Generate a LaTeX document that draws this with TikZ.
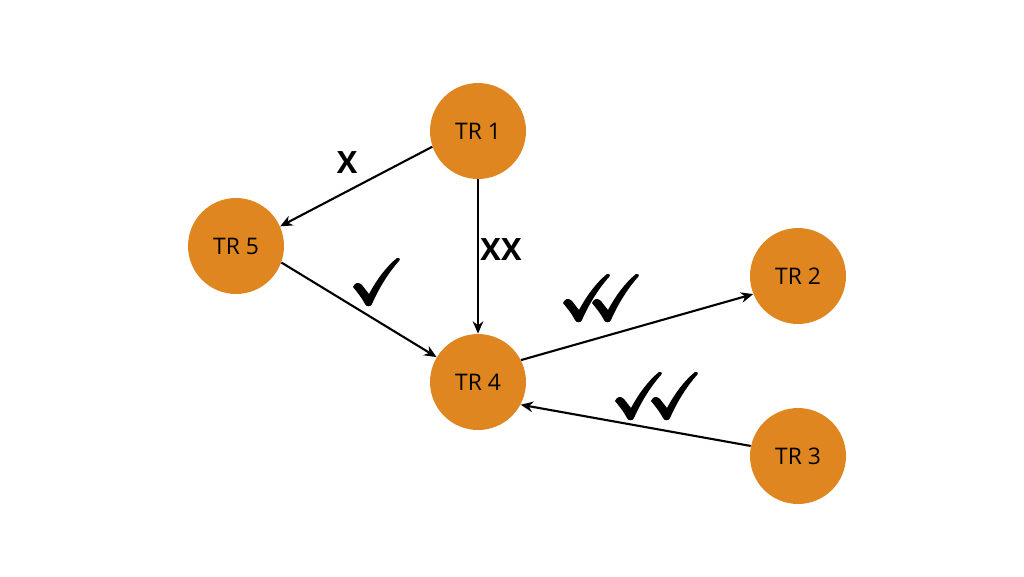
\documentclass[tikz,border=0pt]{standalone}
\usepackage{fontspec}
\setmainfont{Open Sans}
\usetikzlibrary{arrows.meta}
\definecolor{trorange}{RGB}{224,134,32}
\tikzset{
    tr/.style={circle, fill=trorange, minimum size=1.92cm, inner sep=0pt, font=\fontsize{13}{15}\selectfont},
    link/.style={line width=1.2pt, -{Stealth[length=7pt,width=6pt]}},
    cross/.style={font=\fontsize{17.5}{19}\selectfont\bfseries},
    tickmark/.pic={
        \fill (0,29) .. controls (2,24) and (6,24) .. (9,27) -- (16,36)
            .. controls (24,21) and (34,8) .. (44,0) .. controls (46,-1) and (48,1) .. (46,3)
            .. controls (36,14) and (26,30) .. (19,46) .. controls (18,49) and (13,49) .. (12,46)
            .. controls (9,40) and (4,34) .. (0,29) -- cycle;
    }
}
\begin{document}
\begin{tikzpicture}[x=0.02cm, y=-0.02cm]
                \useasboundingbox (0,0) rectangle (1024,576);
                \node[tr] (TR1) at (478,131) {TR 1};
                \node[tr] (TR5) at (236,246) {TR 5};
                \node[tr] (TR4) at (478,382) {TR 4};
                \node[tr] (TR2) at (798,276) {TR 2};
                \node[tr] (TR3) at (798,456) {TR 3};
                \draw[link] (TR1.-161) -- (TR5.24);
                \draw[link] (TR1.south) -- (TR4.north);
                \draw[link] (TR5.-20) -- (TR4.149);
                \draw[link] (TR4.27) -- (TR2.-158);
                \draw[link] (TR3.168) -- (TR4.-28);
                \node[cross] (c15) at (347,163) {X};
                \node[cross] (c14) at (501,250) {XX};
                % ticks
                \pic (t54) at (353,258) {tickmark};
                \pic (t42a) at (563,274) {tickmark};
                \pic (t42b) at (592,274) {tickmark};
                \pic (t34a) at (615,372) {tickmark};
                \pic (t34b) at (651,372) {tickmark};
            \end{tikzpicture}
\end{document}
